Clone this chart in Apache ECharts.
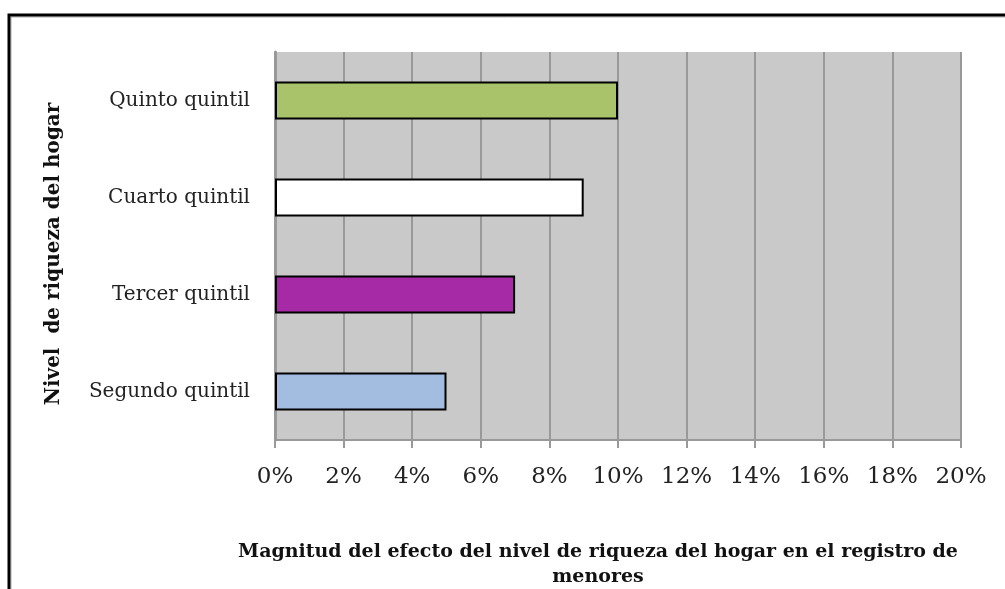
<!DOCTYPE html>
<html>
<head>
<meta charset="utf-8">
<script src="https://cdn.jsdelivr.net/npm/echarts@6/dist/echarts.min.js"></script>
<style>
html,body{margin:0;padding:0;background:#fff;}
#c{width:1005px;height:589px;}
</style>
</head>
<body>
<div id="c"></div>
<script>
const categories = ['Segundo quintil', 'Tercer quintil', 'Cuarto quintil', 'Quinto quintil'];
const values = [0.05, 0.07, 0.09, 0.10];
const barColors = ['#a3bde0', '#a62aa5', '#ffffff', '#a9c36a'];
const xTicks = [0, 0.02, 0.04, 0.06, 0.08, 0.10, 0.12, 0.14, 0.16, 0.18, 0.20];
const yTitle = 'Nivel  de riqueza del hogar';
const xTitle = 'Magnitud del efecto del nivel de riqueza del hogar en el registro de\nmenores';

const chart = echarts.init(document.getElementById('c'), null, {renderer: 'canvas'});
const serif = '"DejaVu Serif", "Liberation Serif", serif';
chart.setOption({
  animation: false,
  backgroundColor: '#ffffff',
  graphic: [
    {type: 'rect', shape: {x: 11, y: 17, width: 1200, height: 800}, style: {fill: 'none', stroke: '#aaaaaa', lineWidth: 1}, silent: true},
    {type: 'rect', shape: {x: 9, y: 15, width: 1200, height: 800}, style: {fill: 'none', stroke: '#000000', lineWidth: 3}, silent: true}
  ],
  grid: {left: 275, right: 44, top: 52, bottom: 149, show: true, backgroundColor: '#c9c9c9', borderWidth: 0, outerBoundsMode: 'none', containLabel: false},
  xAxis: {
    type: 'value', min: xTicks[0], max: xTicks[xTicks.length - 1], interval: xTicks[1] - xTicks[0],
    axisLine: {show: true, lineStyle: {color: '#999999', width: 2}},
    axisTick: {show: true, length: 8, lineStyle: {color: '#999999', width: 2}},
    splitLine: {show: true, lineStyle: {color: '#999999', width: 2}},
    axisLabel: {
      margin: 26, color: '#222', fontFamily: serif, fontSize: 23,
      formatter: v => Math.round(v * 100) + '%'
    },
    name: xTitle, nameLocation: 'middle', nameGap: 100,
    nameTextStyle: {fontFamily: serif, fontWeight: 'bold', fontSize: 19, color: '#111', lineHeight: 25, padding: [0, 40, 0, 0]}
  },
  yAxis: {
    type: 'category', data: categories,
    axisLine: {show: true, lineStyle: {color: '#999999', width: 3}},
    axisTick: {show: false},
    axisLabel: {margin: 25, color: '#222', fontFamily: serif, fontSize: 20},
    name: yTitle, nameLocation: 'middle', nameGap: 211,
    nameTextStyle: {fontFamily: serif, fontWeight: 'bold', fontSize: 20, color: '#111', padding: [0, 16, 0, 0]}
  },
  series: [{
    type: 'bar',
    data: values.map((v, i) => ({value: v, itemStyle: {color: barColors[i]}})),
    barWidth: '39%',
    itemStyle: {borderColor: '#000', borderWidth: 2}
  }]
});
</script>
</body>
</html>
